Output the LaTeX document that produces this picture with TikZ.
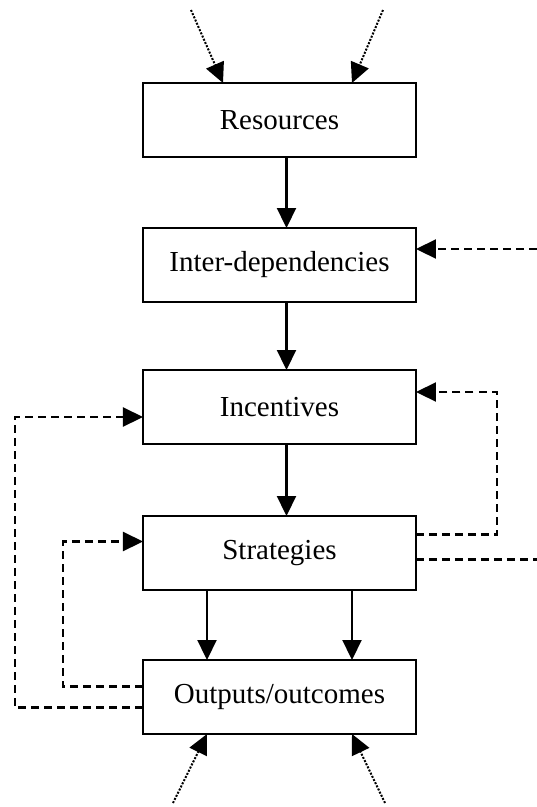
\documentclass[tikz,border=0pt]{standalone}
\usepackage{fontspec}
\setmainfont{Liberation Serif}
\usepackage{tikz}
\usetikzlibrary{positioning,arrows.meta}
\tikzset{stage/.style={rectangle,draw,minimum width=273pt,minimum height=74pt,inner sep=0pt,outer sep=0pt,line width=2.2pt,font=\fontsize{29}{34}\selectfont}}
\tikzset{flow/.style={-{Triangle[length=20pt,width=19pt]},line width=2.2pt}}
\tikzset{fb/.style={flow,dash pattern=on 8pt off 5pt}}
\tikzset{outside/.style={-{Triangle[length=20pt,width=19pt]},line width=2pt,dash pattern=on 2pt off 1.5pt}}

\begin{document}
\begin{tikzpicture}
        \useasboundingbox (-279.5pt,120pt) rectangle (257.5pt,-687pt);

        \node[stage] (res) {Resources};
        \node[stage,below=71pt of res] (inter) {Inter-dependencies};
        \node[stage,below=68pt of inter] (incent) {Incentives};
        \node[stage,below=72pt of incent] (strat) {Strategies};
        \node[stage,below=70pt of strat] (outp) {Outputs/outcomes};

        % columns for the loops and the loose ends
        \coordinate (lo) at (-264.5pt,0);
        \coordinate (li) at (-216.5pt,0);
        \coordinate (ro) at (217.5pt,0);
        \coordinate (rim) at (257.5pt,0);

        \coordinate (res_in_l) at (-88.5pt,110pt);
        \coordinate (res_in_r) at (103.5pt,110pt);
        \coordinate (outp_in_l) at (-106.5pt,-683pt);
        \coordinate (outp_in_r) at (105.5pt,-683pt);

        \draw[outside] (res_in_l) to ([xshift=-56.5pt]res.north);
        \draw[outside] (res_in_r) to ([xshift=72.5pt]res.north);
        \draw[outside] (outp_in_l) to ([xshift=-72.5pt]outp.south);
        \draw[outside] (outp_in_r) to ([xshift=72.5pt]outp.south);

        \draw[flow] ([xshift=7pt]res.south) to ([xshift=7pt]inter.north);
        \draw[flow] ([xshift=7pt]inter.south) to ([xshift=7pt]incent.north);
        \draw[flow] ([xshift=7pt]incent.south) to ([xshift=7pt]strat.north);
        \draw[flow] ([xshift=-72.5pt]strat.south) to ([xshift=-72.5pt]outp.north);
        \draw[flow] ([xshift=72.5pt]strat.south) to ([xshift=72.5pt]outp.north);

        \coordinate (inter_in) at ([yshift=16pt]inter.east);
        \draw[fb] (rim |- inter_in) to (inter_in);

        \coordinate (strat_up) at ([yshift=18.5pt]strat.east);
        \coordinate (incent_r) at ([yshift=15pt]incent.east);
        \draw[fb] (strat_up) -- (ro |- strat_up) -- (ro |- incent_r) -- (incent_r);

        \coordinate (strat_out) at ([yshift=-6.5pt]strat.east);
        \draw[fb,-] (strat_out) -- (rim |- strat_out);

        \coordinate (outp_lo) at ([yshift=-10.5pt]outp.west);
        \coordinate (incent_l) at ([yshift=-10pt]incent.west);
        \draw[fb] (outp_lo) -- (lo |- outp_lo) -- (lo |- incent_l) -- (incent_l);

        \coordinate (outp_li) at ([yshift=10.5pt]outp.west);
        \coordinate (strat_l) at ([yshift=11.5pt]strat.west);
        \draw[fb] (outp_li) -- (li |- outp_li) -- (li |- strat_l) -- (strat_l);
    \end{tikzpicture}
\end{document}
